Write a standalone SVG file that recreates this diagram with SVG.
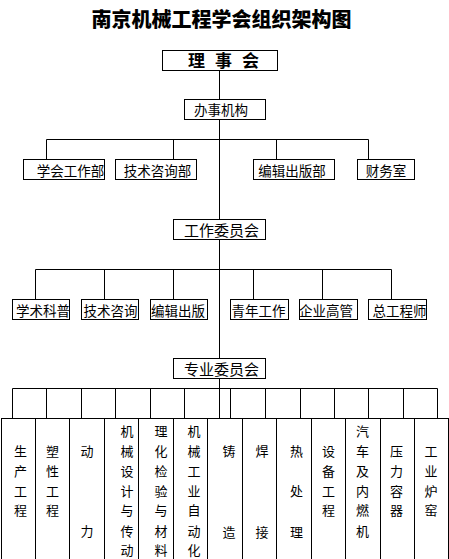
<svg xmlns="http://www.w3.org/2000/svg" width="449" height="559" viewBox="0 0 449 559">
<style>
.bx{fill:#fff;stroke:#000;stroke-width:1}
.ln{fill:none;stroke:#000;stroke-width:1}
text{font-family:"Noto Sans CJK SC","Noto Sans CJK JP",sans-serif;fill:#000;dominant-baseline:central;text-anchor:middle}
.t{font-size:13.5px}
.v{font-size:13px}
</style>
<rect width="449" height="559" fill="#fff"/>
<text id="title" x="221.5" y="18.5" style="font-size:20px;font-weight:900">南京机械工程学会组织架构图</text>
<g id="connectors" class="ln">
<path d="M219.5 70.5V418"/>
<path d="M46.5 139.5H368.5M46.5 139.5V159.5M173.5 139.5V159.5M276.5 139.5V159.5M368.5 139.5V159.5"/>
<path d="M35.5 269.5H391.5M35.5 269.5V299.5M104.5 269.5V299.5M173.5 269.5V299.5M253.5 269.5V299.5M322.5 269.5V299.5M391.5 269.5V299.5"/>
<path d="M12.5 388.5H437.5M12.5 388.5V418.5M46.5 388.5V418.5M81.5 388.5V418.5M115.5 388.5V418.5M150.5 388.5V418.5M184.5 388.5V418.5M230.5 388.5V418.5M265.5 388.5V418.5M300.5 388.5V418.5M334.5 388.5V418.5M368.5 388.5V418.5M403.5 388.5V418.5M437.5 388.5V418.5"/>
</g>
<g id="n-lishihui"><rect class="bx" x="162.5" y="50.5" width="115" height="20"/><text x="223" y="59.5" style="font-size:17px;font-weight:700;letter-spacing:10px;text-anchor:start" transform="translate(-35,0)">理事会</text></g>
<g id="n-banshi"><rect class="bx" x="184.5" y="99.5" width="81" height="20"/><text class="t" x="221" y="109">办事机构</text></g>
<g id="n-xuehui"><rect class="bx" x="23.5" y="159.5" width="81" height="20"/><text class="t" x="70.5" y="169.5">学会工作部</text></g>
<g id="n-jishu"><rect class="bx" x="115.5" y="159.5" width="81" height="20"/><text class="t" x="157.5" y="169.5">技术咨询部</text></g>
<g id="n-bianji"><rect class="bx" x="253.5" y="159.5" width="81" height="20"/><text class="t" x="292" y="169.5">编辑出版部</text></g>
<g id="n-caiwu"><rect class="bx" x="357.5" y="159.5" width="57" height="20"/><text class="t" x="386" y="169.5">财务室</text></g>
<g id="n-gongzuo"><rect class="bx" x="173.5" y="219.5" width="92" height="20"/><text x="221.5" y="229.5" style="font-size:15px">工作委员会</text></g>
<g id="n-w1"><rect class="bx" x="12.5" y="299.5" width="57" height="20"/><text class="t" x="43" y="309.5">学术科普</text></g>
<g id="n-w2"><rect class="bx" x="81.5" y="299.5" width="57" height="20"/><text class="t" x="110.5" y="309.5">技术咨询</text></g>
<g id="n-w3"><rect class="bx" x="150.5" y="299.5" width="57" height="20"/><text class="t" x="178" y="309.5">编辑出版</text></g>
<g id="n-w4"><rect class="bx" x="230.5" y="299.5" width="58" height="20"/><text class="t" x="258.5" y="309.5">青年工作</text></g>
<g id="n-w5"><rect class="bx" x="299.5" y="299.5" width="58" height="20"/><text class="t" x="326" y="309.5">企业高管</text></g>
<g id="n-w6"><rect class="bx" x="368.5" y="299.5" width="58" height="20"/><text class="t" x="399.5" y="309.5">总工程师</text></g>
<g id="n-zhuanye"><rect class="bx" x="173.5" y="358.5" width="92" height="20"/><text x="221.5" y="368.5" style="font-size:15px">专业委员会</text></g>
<g id="n-p1"><rect class="bx" x="1.5" y="418.5" width="34" height="141"/><text class="v"><tspan x="20.5" y="450">生</tspan><tspan x="20.5" y="469.5">产</tspan><tspan x="20.5" y="489.5">工</tspan><tspan x="20.5" y="509">程</tspan></text></g>
<g id="n-p2"><rect class="bx" x="35.5" y="418.5" width="34" height="141"/><text class="v"><tspan x="52.5" y="450">塑</tspan><tspan x="52.5" y="469.5">性</tspan><tspan x="52.5" y="489.5">工</tspan><tspan x="52.5" y="509">程</tspan></text></g>
<g id="n-p3"><rect class="bx" x="69.5" y="418.5" width="35" height="141"/><text class="v"><tspan x="87" y="450">动</tspan><tspan x="87" y="529.5">力</tspan></text></g>
<g id="n-p4"><rect class="bx" x="104.5" y="418.5" width="34" height="141"/><text class="v"><tspan x="127" y="430">机</tspan><tspan x="127" y="450">械</tspan><tspan x="127" y="469.5">设</tspan><tspan x="127" y="489.5">计</tspan><tspan x="127" y="509">与</tspan><tspan x="127" y="529.5">传</tspan><tspan x="127" y="549">动</tspan></text></g>
<g id="n-p5"><rect class="bx" x="138.5" y="418.5" width="35" height="141"/><text class="v"><tspan x="161" y="430">理</tspan><tspan x="161" y="450">化</tspan><tspan x="161" y="469.5">检</tspan><tspan x="161" y="489.5">验</tspan><tspan x="161" y="509">与</tspan><tspan x="161" y="529.5">材</tspan><tspan x="161" y="549">料</tspan></text></g>
<g id="n-p6"><rect class="bx" x="173.5" y="418.5" width="34" height="141"/><text class="v"><tspan x="194" y="430">机</tspan><tspan x="194" y="450">械</tspan><tspan x="194" y="469.5">工</tspan><tspan x="194" y="489.5">业</tspan><tspan x="194" y="509">自</tspan><tspan x="194" y="529.5">动</tspan><tspan x="194" y="549">化</tspan></text></g>
<g id="n-p7"><rect class="bx" x="207.5" y="418.5" width="35" height="141"/><text class="v"><tspan x="229" y="450">铸</tspan><tspan x="229" y="530.5">造</tspan></text></g>
<g id="n-p8"><rect class="bx" x="242.5" y="418.5" width="34" height="141"/><text class="v"><tspan x="262" y="450">焊</tspan><tspan x="262" y="530.5">接</tspan></text></g>
<g id="n-p9"><rect class="bx" x="276.5" y="418.5" width="35" height="141"/><text class="v"><tspan x="296.5" y="450">热</tspan><tspan x="296.5" y="490">处</tspan><tspan x="296.5" y="530.5">理</tspan></text></g>
<g id="n-p10"><rect class="bx" x="311.5" y="418.5" width="34" height="141"/><text class="v"><tspan x="328.5" y="450">设</tspan><tspan x="328.5" y="469.5">备</tspan><tspan x="328.5" y="489.5">工</tspan><tspan x="328.5" y="509">程</tspan></text></g>
<g id="n-p11"><rect class="bx" x="345.5" y="418.5" width="35" height="141"/><text class="v"><tspan x="362.5" y="430">汽</tspan><tspan x="362.5" y="450">车</tspan><tspan x="362.5" y="469.5">及</tspan><tspan x="362.5" y="489.5">内</tspan><tspan x="362.5" y="509">燃</tspan><tspan x="362.5" y="529.5">机</tspan></text></g>
<g id="n-p12"><rect class="bx" x="380.5" y="418.5" width="34" height="141"/><text class="v"><tspan x="396.5" y="450">压</tspan><tspan x="396.5" y="469.5">力</tspan><tspan x="396.5" y="489.5">容</tspan><tspan x="396.5" y="509">器</tspan></text></g>
<g id="n-p13"><rect class="bx" x="414.5" y="418.5" width="34" height="141"/><text class="v"><tspan x="431" y="450">工</tspan><tspan x="431" y="469.5">业</tspan><tspan x="431" y="489.5">炉</tspan><tspan x="431" y="509">窑</tspan></text></g>
</svg>
